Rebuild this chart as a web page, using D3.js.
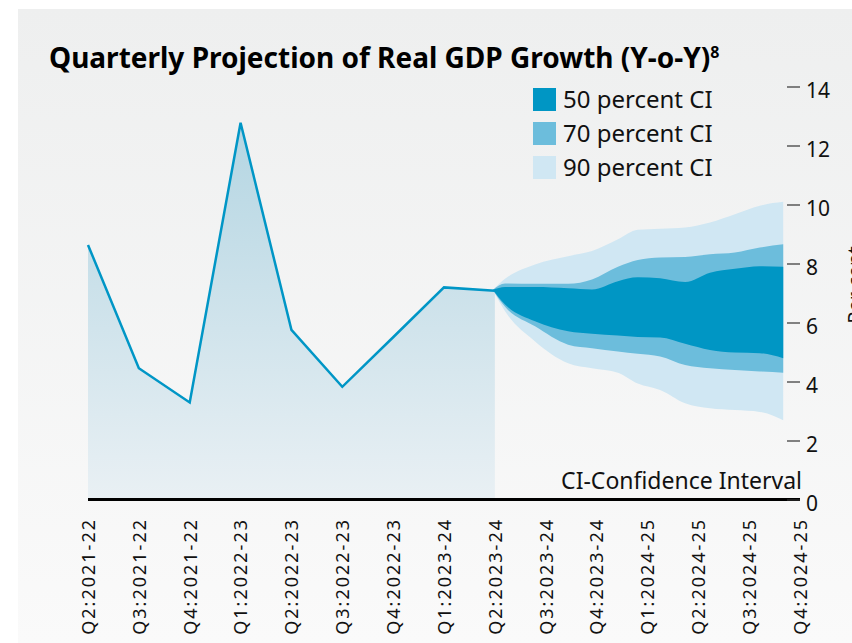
<!DOCTYPE html>
<html>
<head>
<meta charset="utf-8">
<script src="https://cdn.jsdelivr.net/npm/d3@7"></script>
<style>
  body { margin: 0; background: #fff; }
  svg { display: block; font-family: "Noto Sans", "Open Sans", sans-serif; }
</style>
</head>
<body>
<svg id="chart" width="852" height="643"></svg>
<script>
// quarter labels on the x axis
const quarters = ["Q2:2021-22", "Q3:2021-22", "Q4:2021-22", "Q1:2022-23", "Q2:2022-23",
  "Q3:2022-23", "Q4:2022-23", "Q1:2023-24", "Q2:2023-24", "Q3:2023-24", "Q4:2023-24",
  "Q1:2024-25", "Q2:2024-25", "Q3:2024-25", "Q4:2024-25"];

// actual growth, per cent (first 9 quarters)
const gdpGrowth = [8.63, 4.45, 3.29, 12.77, 5.75, 3.82, 5.5, 7.19, 7.08];

// fan chart, read at positions along the quarter index
const fanPos = [7.96, 8.2, 8.79, 9.44, 9.91, 10.42, 10.81, 11.25, 11.74, 12.23, 12.72, 13.21, 13.67];
const upper90 = [7.1, 7.48, 7.97, 8.25, 8.42, 8.82, 9.14, 9.18, 9.22, 9.39, 9.67, 9.96, 10.09];
const upper70 = [7.1, 7.32, 7.31, 7.31, 7.46, 7.89, 8.12, 8.2, 8.22, 8.31, 8.37, 8.54, 8.65];
const upper50 = [7.1, 7.2, 7.2, 7.16, 7.12, 7.4, 7.53, 7.5, 7.37, 7.69, 7.82, 7.91, 7.89];
const lower50 = [7.1, 6.61, 6.04, 5.7, 5.62, 5.56, 5.51, 5.49, 5.28, 5.07, 4.98, 4.96, 4.79];
const lower70 = [7.1, 6.53, 5.87, 5.25, 5.13, 5.02, 4.94, 4.85, 4.56, 4.45, 4.39, 4.34, 4.3];
const lower90 = [7.1, 6.38, 5.36, 4.62, 4.45, 4.3, 3.93, 3.71, 3.26, 3.09, 3.03, 2.97, 2.69];

const yTicks = [0, 2, 4, 6, 8, 10, 12, 14];
const bands = [
  { name: "90 percent CI", lo: lower90, hi: upper90, color: "#d0e7f3" },
  { name: "70 percent CI", lo: lower70, hi: upper70, color: "#6cbddc" },
  { name: "50 percent CI", lo: lower50, hi: upper50, color: "#0096c4" }
];

var svg = d3.select("#chart");
var width = +svg.attr("width");
var height = +svg.attr("height");

const defs = svg.append("defs");
const bg = defs.append("linearGradient").attr("id", "bg")
  .attr("x1", 0).attr("y1", 0).attr("x2", 0).attr("y2", 1);
bg.append("stop").attr("offset", "0%").attr("stop-color", "#eeefef");
bg.append("stop").attr("offset", "100%").attr("stop-color", "#fafafa");

svg.append("rect")
  .attr("x", 18).attr("y", 9)
  .attr("width", width - 18).attr("height", height - 9)
  .style("fill", "url(#bg)");

const x = d3.scaleLinear().domain([0, 14]).range([88, 800]);
const y = d3.scaleLinear().domain([0, 14]).range([499.5, 86.5]);

const areaGrad = defs.append("linearGradient").attr("id", "areaGrad")
  .attr("gradientUnits", "userSpaceOnUse")
  .attr("x1", 0).attr("y1", y(13)).attr("x2", 0).attr("y2", y(0));
areaGrad.append("stop").attr("offset", "0%").attr("stop-color", "#b3d5e2");
areaGrad.append("stop").attr("offset", "100%").attr("stop-color", "#e9f0f4");

// area under the actual line
svg.append("path")
  .datum(gdpGrowth)
  .attr("d", d3.area().x((d, i) => x(i)).y0(y(0)).y1(d => y(d)))
  .style("fill", "url(#areaGrad)");

// fan bands
bands.forEach(b => {
  svg.append("path")
    .datum(fanPos.map((p, i) => ({ p: p, lo: b.lo[i], hi: b.hi[i] })))
    .attr("d", d3.area().curve(d3.curveMonotoneX)
      .x(d => x(d.p)).y0(d => y(d.lo)).y1(d => y(d.hi)))
    .style("fill", b.color);
});

// actual line
svg.append("path")
  .datum(gdpGrowth)
  .attr("d", d3.line().x((d, i) => x(i)).y(d => y(d)))
  .style("fill", "none")
  .style("stroke", "#0096c6")
  .style("stroke-width", 2.5)
  .style("stroke-linejoin", "miter");

// base line
svg.append("line")
  .attr("x1", x(0)).attr("x2", 800)
  .attr("y1", y(0)).attr("y2", y(0))
  .style("stroke", "#000")
  .style("stroke-width", 3);

// y axis on the right
const yAxis = svg.append("g")
  .attr("transform", "translate(787,0)")
  .call(d3.axisRight(y).tickValues(yTicks).tickSize(13).tickPadding(6));
yAxis.select(".domain").remove();
yAxis.selectAll(".tick line").style("stroke", "#333").style("stroke-width", 1.2);
yAxis.selectAll(".tick text")
  .attr("dy", "0.5em")
  .style("font-size", "21px")
  .style("font-family", "\"Noto Sans\", sans-serif")
  .style("fill", "#111");

// x axis labels
const xAxis = svg.append("g")
  .attr("transform", "translate(0,518)")
  .call(d3.axisBottom(x).tickValues(d3.range(quarters.length))
    .tickFormat(i => quarters[i]).tickSize(0));
xAxis.select(".domain").remove();
xAxis.selectAll(".tick text")
  .attr("transform", "rotate(-90)")
  .attr("x", 0).attr("y", 0)
  .attr("dy", "0.35em")
  .style("text-anchor", "end")
  .style("font-size", "18px")
  .style("letter-spacing", "2px")
  .style("font-family", "\"Noto Sans\", sans-serif")
  .style("fill", "#111");

// title
const title = svg.append("text")
  .attr("x", 49).attr("y", 68)
  .style("font-size", "28px")
  .style("font-weight", "bold")
  .style("fill", "#000")
  .text("Quarterly Projection of Real GDP Growth (Y-o-Y)");
title.append("tspan")
  .attr("dy", -10)
  .style("font-size", "16px")
  .text("8");

// legend
const legendItems = bands.slice().reverse();
const legend = svg.append("g").attr("transform", "translate(533,88)");
legendItems.forEach((b, i) => {
  const g = legend.append("g").attr("transform", "translate(0," + (i * 34) + ")");
  g.append("rect").attr("width", 23).attr("height", 23).style("fill", b.color);
  g.append("text").attr("x", 30).attr("y", 20)
    .style("font-size", "24px").style("fill", "#111").text(b.name);
});

svg.append("text")
  .attr("x", 802).attr("y", 489)
  .style("text-anchor", "end")
  .style("font-size", "23px")
  .style("fill", "#111")
  .text("CI-Confidence Interval");

// axis title, mostly cut off by the right edge as in the source
svg.append("text")
  .attr("transform", "translate(862,285) rotate(-90)")
  .style("text-anchor", "middle")
  .style("font-size", "20px")
  .style("fill", "#111")
  .text("Per cent");
</script>
</body>
</html>
